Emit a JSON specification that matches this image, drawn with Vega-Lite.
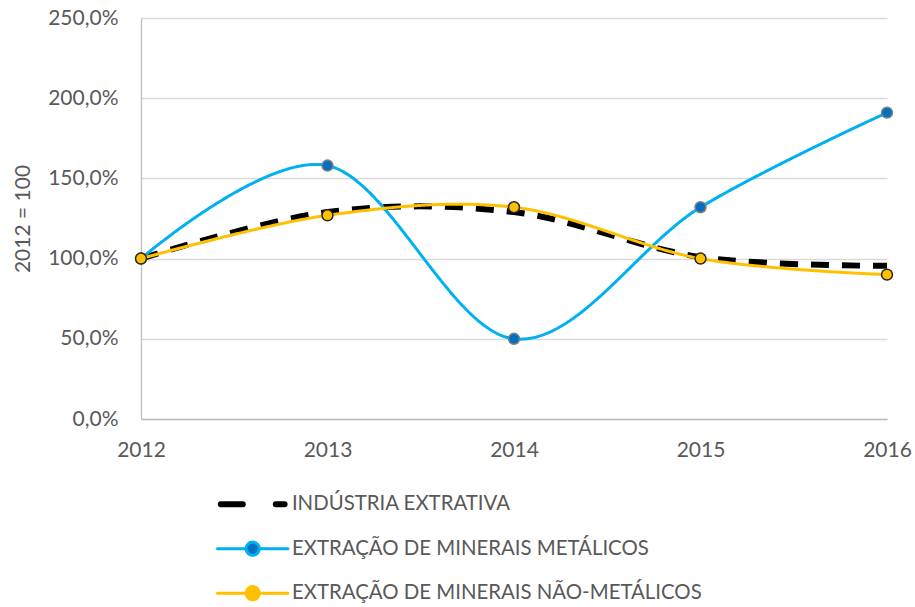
{
  "$schema": "https://vega.github.io/schema/vega-lite/v6.json",
  "width": 746,
  "height": 401,
  "autosize": "none",
  "padding": {"left": 141, "top": 18, "right": 28, "bottom": 188},
  "background": "white",
  "config": {
    "font": "Lato",
    "view": {"stroke": null},
    "axis": {"labelFont": "Lato", "labelFontSize": 21, "labelColor": "#595959", "titleFont": "Lato", "titleFontSize": 21, "titleColor": "#595959", "titleFontWeight": "normal", "ticks": false, "gridColor": "#D9D9D9", "gridWidth": 1.3, "domainColor": "#BFBFBF", "domainWidth": 1.3}
  },
  "data": {
    "values": [
      {"year": 2012, "series": "INDÚSTRIA EXTRATIVA", "value": 100},
      {"year": 2013, "series": "INDÚSTRIA EXTRATIVA", "value": 129},
      {"year": 2014, "series": "INDÚSTRIA EXTRATIVA", "value": 129},
      {"year": 2015, "series": "INDÚSTRIA EXTRATIVA", "value": 101},
      {"year": 2016, "series": "INDÚSTRIA EXTRATIVA", "value": 95.5},
      {"year": 2012, "series": "EXTRAÇÃO DE MINERAIS METÁLICOS", "value": 100},
      {"year": 2013, "series": "EXTRAÇÃO DE MINERAIS METÁLICOS", "value": 158},
      {"year": 2014, "series": "EXTRAÇÃO DE MINERAIS METÁLICOS", "value": 50},
      {"year": 2015, "series": "EXTRAÇÃO DE MINERAIS METÁLICOS", "value": 132},
      {"year": 2016, "series": "EXTRAÇÃO DE MINERAIS METÁLICOS", "value": 191},
      {"year": 2012, "series": "EXTRAÇÃO DE MINERAIS NÃO-METÁLICOS", "value": 100},
      {"year": 2013, "series": "EXTRAÇÃO DE MINERAIS NÃO-METÁLICOS", "value": 127},
      {"year": 2014, "series": "EXTRAÇÃO DE MINERAIS NÃO-METÁLICOS", "value": 132},
      {"year": 2015, "series": "EXTRAÇÃO DE MINERAIS NÃO-METÁLICOS", "value": 100},
      {"year": 2016, "series": "EXTRAÇÃO DE MINERAIS NÃO-METÁLICOS", "value": 90}
    ]
  },
  "encoding": {
    "x": {"field": "year", "type": "quantitative", "scale": {"domain": [2012, 2016], "nice": false, "zero": false},
      "axis": {"title": null, "values": [2012, 2013, 2014, 2015, 2016], "format": "d", "labelFlush": false, "grid": false, "labelPadding": 20}},
    "y": {"field": "value", "type": "quantitative", "scale": {"domain": [0, 250], "nice": false},
      "axis": {"title": "2012 = 100", "values": [0, 50, 100, 150, 200, 250], "labelExpr": "replace(format(datum.value, '.1f'), '.', ',') + '%'", "labelPadding": 23, "titlePadding": 14}}
  },
  "layer": [
    {
      "mark": {"type": "line", "interpolate": "cardinal", "strokeCap": "butt"},
      "encoding": {
        "color": {"field": "series", "type": "nominal",
          "scale": {"domain": ["INDÚSTRIA EXTRATIVA", "EXTRAÇÃO DE MINERAIS METÁLICOS", "EXTRAÇÃO DE MINERAIS NÃO-METÁLICOS"], "range": ["#000000", "#00B0F0", "#FFC000"]},
          "legend": {
            "title": null, "orient": "none", "legendX": 101.5, "legendY": 476, "direction": "vertical",
            "labelFont": "Lato", "labelFontSize": 20.4, "labelColor": "#595959", "labelOffset": 29, "labelLimit": 0,
            "symbolSize": 1936, "rowPadding": 18.5, "symbolStrokeWidth": 3,
            "encode": {"symbols": {"update": {
              "shape": {"signal": "datum.value === 'INDÚSTRIA EXTRATIVA' ? 'M-1.45,0H-0.45M1.05,0H1.45' : 'M-1.6,0H-0.3M0.3,0H1.6M-0.3,0A0.3,0.3 0 1,1 0.3,0A0.3,0.3 0 1,1 -0.3,0'"},
              "fill": {"signal": "datum.value === 'INDÚSTRIA EXTRATIVA' ? 'transparent' : (datum.value === 'EXTRAÇÃO DE MINERAIS METÁLICOS' ? '#0070C0' : '#FFC000')"},
              "stroke": {"signal": "datum.value === 'INDÚSTRIA EXTRATIVA' ? '#000000' : (datum.value === 'EXTRAÇÃO DE MINERAIS METÁLICOS' ? '#00B0F0' : '#FFC000')"},
              "strokeWidth": {"signal": "datum.value === 'INDÚSTRIA EXTRATIVA' ? 6 : 3"},
              "strokeCap": {"value": "round"},
              "strokeDash": {"value": []},
              "opacity": {"value": 1}
            }}}
          }},
        "strokeDash": {"condition": {"test": "datum.series === 'INDÚSTRIA EXTRATIVA'", "value": [18, 13]}, "value": [1, 0]},
        "strokeWidth": {"condition": {"test": "datum.series === 'INDÚSTRIA EXTRATIVA'", "value": 6}, "value": 3}
      }
    },
    {
      "transform": [{"filter": "datum.series === 'EXTRAÇÃO DE MINERAIS METÁLICOS'"}],
      "mark": {"type": "point", "filled": true, "fill": "#0070C0", "stroke": "#808080", "strokeWidth": 1.5, "size": 120, "opacity": 1}
    },
    {
      "transform": [{"filter": "datum.series === 'EXTRAÇÃO DE MINERAIS NÃO-METÁLICOS'"}],
      "mark": {"type": "point", "filled": true, "fill": "#FFC000", "stroke": "#262626", "strokeWidth": 1.5, "size": 120, "opacity": 1}
    }
  ]
}
